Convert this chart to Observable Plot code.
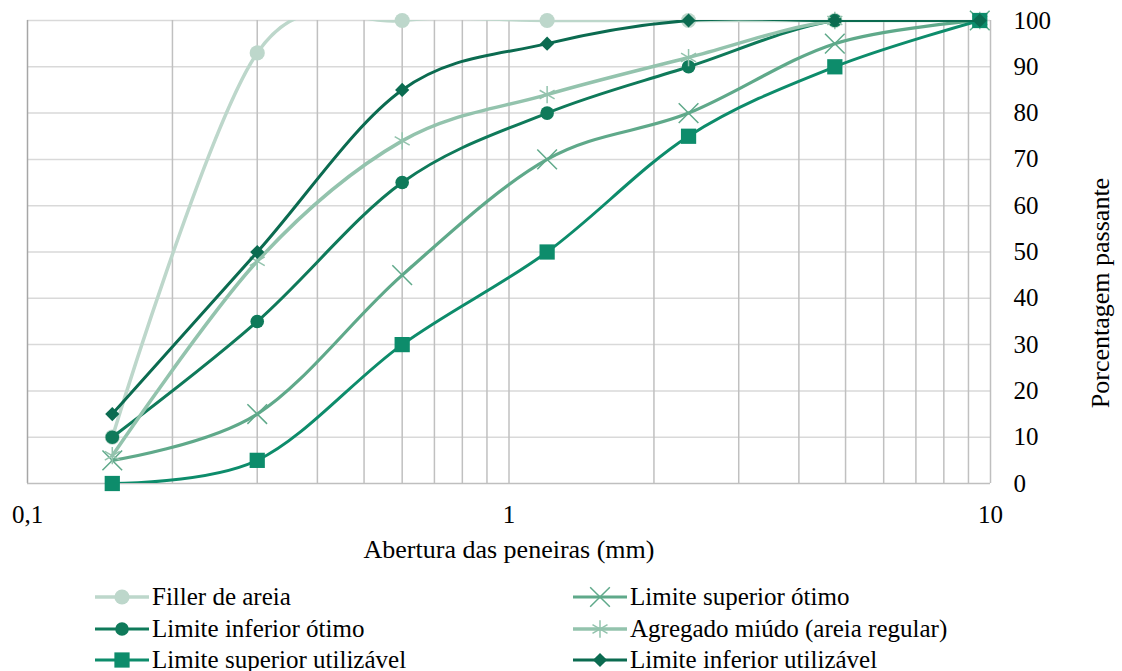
<!DOCTYPE html>
<html>
<head>
<meta charset="utf-8">
<script src="https://cdn.jsdelivr.net/npm/d3@7"></script>
<script src="https://cdn.jsdelivr.net/npm/@observablehq/plot@0.6"></script>
<style>
  body { margin: 0; background: #fff; font-family: "Liberation Serif", "DejaVu Serif", "Noto Serif", Tinos, FreeSerif, "Times New Roman", Times, serif; }
  #wrap { position: relative; width: 1122px; height: 671px; }
  #legend { position: absolute; left: 0; top: 0; width: 1122px; height: 671px; pointer-events: none; }
  .item { position: absolute; display: flex; align-items: center; font-size: 25px; color: #000; line-height: 1; white-space: nowrap; }
  .item svg { margin-right: 3px; }
</style>
</head>
<body>
<div id="wrap"><div id="chart"></div><div id="legend"></div></div>
<script>
// Sieve openings (mm)
const sieves = [0.15, 0.3, 0.6, 1.2, 2.36, 4.75, 9.5];
// Percent passing per series
const filler   = [10, 93, 100, 100, 100, 100, 100];
const supOtimo = [5, 15, 45, 70, 80, 95, 100];
const infOtimo = [10, 35, 65, 80, 90, 100, 100];
const agregado = [6, 48, 74, 84, 92, 100, 100];
const supUtil  = [0, 5, 30, 50, 75, 90, 100];
const infUtil  = [15, 50, 85, 95, 100, 100, 100];

const seriesNames = [
  "Filler de areia",
  "Limite superior ótimo",
  "Limite inferior ótimo",
  "Agregado miúdo (areia regular)",
  "Limite superior utilizável",
  "Limite inferior utilizável"
];
const seriesValues = [filler, supOtimo, infOtimo, agregado, supUtil, infUtil];
const seriesColors = ["#bdd7cb", "#5fa98a", "#0f7a5a", "#93c3ad", "#0d8c6b", "#0b6b50"];
const seriesSymbols = ["circle", "times", "circle", "asterisk", "square", "diamond2"];
const seriesFilled = [true, false, true, false, true, true];
const seriesR = [7.6, 9, 6.8, 8.2, 8.6, 6.4];
const seriesWidth = [3.5, 3.2, 3, 3.5, 3, 3];

const xGrid = [0.1,0.2,0.3,0.4,0.5,0.6,0.7,0.8,0.9,1,2,3,4,5,6,7,8,9,10];
const xTicks = [0.1, 1, 10];
const yTicks = [0,10,20,30,40,50,60,70,80,90,100];

const rows = [];
seriesNames.forEach((name, i) => {
  sieves.forEach((s, j) => rows.push({series: name, idx: i, x: s, y: seriesValues[i][j]}));
});

const FONT = "'Liberation Serif', 'DejaVu Serif', 'Noto Serif', Tinos, FreeSerif, 'Times New Roman', Times, serif";

const marks = [
  Plot.ruleY(yTicks.filter(d => d > 0), {y: d => d, stroke: "#d9d9d9", strokeWidth: 1.5}),
  Plot.ruleX(xGrid.filter(d => d > 0.1 && d < 10), {x: d => d, stroke: "#c0c0c0", strokeWidth: 1.5}),
  Plot.ruleX([0.1], {stroke: "#a6a6a6", strokeWidth: 1.5}),
  Plot.ruleX([10], {stroke: "#bfbfbf", strokeWidth: 1.5}),
  Plot.ruleY([0], {stroke: "#bfbfbf", strokeWidth: 1.5}),
  Plot.axisX({ticks: xTicks, tickSize: 0, tickPadding: 22, tickFormat: d => String(d).replace(".", ","), label: null, fontSize: 25, fontFamily: FONT}),
  Plot.axisY({anchor: "right", ticks: yTicks, tickSize: 0, tickPadding: 23, label: null, fontSize: 25, fontFamily: FONT}),
  Plot.text(["Abertura das peneiras (mm)"], {frameAnchor: "bottom", lineAnchor: "middle", textAnchor: "middle", dy: 66, fontSize: 26, fontFamily: FONT, fill: "#000"}),
  Plot.text(["Porcentagem passante"], {frameAnchor: "right", lineAnchor: "middle", textAnchor: "middle", rotate: -90, dx: 110, dy: 41, fontSize: 26, fontFamily: FONT, fill: "#000"})
];

seriesNames.forEach((name, i) => {
  const data = rows.filter(r => r.idx === i);
  marks.push(Plot.line(data, {x: "x", y: "y", stroke: seriesColors[i], strokeWidth: seriesWidth[i], curve: "cardinal", clip: true}));
  marks.push(Plot.dot(data, {
    x: "x", y: "y", r: seriesR[i], symbol: seriesSymbols[i],
    fill: seriesFilled[i] ? seriesColors[i] : "none",
    stroke: seriesFilled[i] ? "none" : seriesColors[i],
    strokeWidth: 1.5
  }));
});

const chart = Plot.plot({
  width: 1122,
  height: 575,
  marginLeft: 27,
  marginRight: 132,
  marginTop: 20,
  marginBottom: 92,
  style: {fontFamily: FONT, fontSize: "25px", color: "#000", background: "#fff", overflow: "visible"},
  x: {type: "log", domain: [0.1, 10]},
  y: {domain: [0, 100]},
  marks
});
document.getElementById("chart").appendChild(chart);

// Legend
const legend = document.getElementById("legend");
const legendPos = [
  [95, 596], [573, 596],
  [95, 628], [573, 628],
  [95, 659], [573, 659]
];
seriesNames.forEach((name, i) => {
  const [lx, ly] = legendPos[i];
  const div = document.createElement("div");
  div.className = "item";
  div.style.left = lx + "px";
  div.style.top = (ly - 12) + "px";
  const sym = {circle: d3.symbolCircle, times: d3.symbolTimes, asterisk: d3.symbolAsterisk, square: d3.symbolSquare, diamond2: d3.symbolDiamond2}[seriesSymbols[i]];
  const path = d3.symbol(sym, Math.PI * seriesR[i] * seriesR[i])();
  const fill = seriesFilled[i] ? seriesColors[i] : "none";
  const stroke = seriesFilled[i] ? "none" : seriesColors[i];
  div.innerHTML = `<svg width="54" height="24"><line x1="0" x2="54" y1="12" y2="12" stroke="${seriesColors[i]}" stroke-width="${seriesWidth[i]}"/><path d="${path}" transform="translate(27,12)" fill="${fill}" stroke="${stroke}" stroke-width="1.5"/></svg><span>${name}</span>`;
  legend.appendChild(div);
});
</script>
</body>
</html>
